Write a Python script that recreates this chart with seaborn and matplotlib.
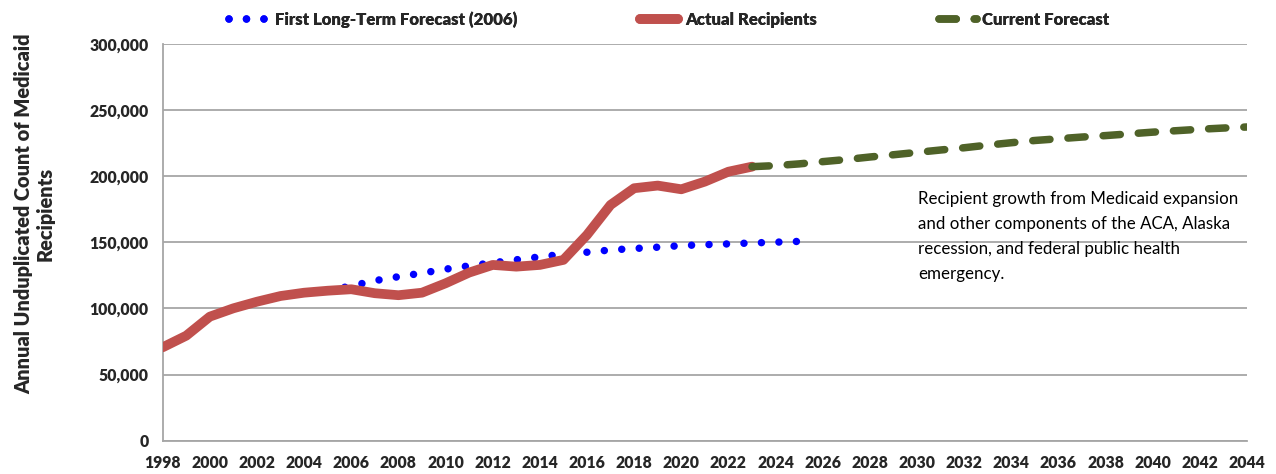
import matplotlib
matplotlib.use('Agg')
import matplotlib.pyplot as plt
import matplotlib.ticker as mticker
from matplotlib.lines import Line2D
import pandas as pd
import seaborn as sns

# values (recipients)
actual_years = list(range(1998, 2024))
actual_vals = [70600, 79400, 93800, 100100, 105100, 109400, 111900, 113400, 114500,
               111500, 110000, 111900, 119000, 127100, 132900, 131600, 132900, 136700,
               155600, 178300, 190900, 192900, 190100, 195900, 203400, 207200]

first_years = list(range(2005, 2026))
first_vals = [113400, 117000, 121000, 124000, 126700, 129700, 132200, 134500, 136800,
              139000, 141000, 142500, 144200, 145300, 146300, 147500, 148200, 148800,
              149500, 150100, 150700]

current_years = list(range(2023, 2045))
current_vals = [207200, 208000, 209300, 211000, 212600, 214500, 216200, 218000, 219800,
                221500, 223500, 225300, 227000, 228300, 229600, 230700, 232000, 233300,
                234400, 235500, 236400, 237200]

BLUE = '#0000FF'
RED = '#C0504D'
GREEN = '#4F6228'
GRID = '#A6A6A6'
W = 'heavy'

sns.set_style('white')
plt.rcParams['font.family'] = ['Lato', 'DejaVu Sans']

fig = plt.figure(figsize=(12.76, 4.74), dpi=100)
ax = fig.add_axes([0.1275, 0.0703, 0.8498, 0.837])

first_df = pd.DataFrame({'year': first_years, 'n': first_vals})
actual_df = pd.DataFrame({'year': actual_years, 'n': actual_vals})
current_df = pd.DataFrame({'year': current_years, 'n': current_vals})

dot_style = dict(color=BLUE, lw=5.4, linestyle=(0, (0.001, 2.33)), dash_capstyle='round')
red_style = dict(color=RED, lw=7, solid_capstyle='round', solid_joinstyle='round')
green_style = dict(color=GREEN, lw=5.4, linestyle=(0, (2.3, 2.4)), dash_capstyle='round')

sns.lineplot(data=first_df, x='year', y='n', ax=ax, zorder=3, **dot_style)
sns.lineplot(data=actual_df, x='year', y='n', ax=ax, zorder=4, **red_style)
sns.lineplot(data=current_df, x='year', y='n', ax=ax, zorder=5, **green_style)

ax.set_xlim(1998, 2044)
ax.set_ylim(0, 300000)
ax.set_xticks(range(1998, 2045, 2))
ax.set_yticks(range(0, 300001, 50000))
ax.yaxis.set_major_formatter(mticker.FuncFormatter(lambda v, p: f'{v:,.0f}'))
ax.grid(axis='y', color=GRID, lw=1.3)
ax.set_axisbelow(True)
for s in ['top', 'right']:
    ax.spines[s].set_visible(False)
for s in ['left', 'bottom']:
    ax.spines[s].set_color(GRID)
    ax.spines[s].set_linewidth(1.3)
ax.tick_params(axis='both', which='major', length=5, width=1.2, color=GRID,
               labelsize=11.3, pad=5)
for lbl in ax.get_xticklabels() + ax.get_yticklabels():
    lbl.set_fontweight(W)

ax.set_xlabel('')
ax.set_ylabel('Annual Unduplicated Count of Medicaid\nRecipients',
              fontsize=14.4, fontweight=W, linespacing=1.2)
ax.yaxis.set_label_coords(-0.0993, 0.571)

ax.text(0.7195, 1 - 191 / 474, 'Recipient growth from Medicaid expansion\n'
        'and other components of the ACA, Alaska\n'
        'recession, and federal public health\n'
        'emergency.', transform=fig.transFigure, fontsize=12.2,
        va='top', ha='left', linespacing=1.7, color='black')

# legend: three separate entries placed like the original
entries = [
    (Line2D([], [], **dot_style), 'First Long-Term Forecast (2006)', 229, 0.5),
    (Line2D([], [], **red_style), 'Actual Recipients', 640, 0.45),
    (Line2D([], [], **green_style), 'Current Forecast', 939, 0.33),
]
for handle, text, px, pad in entries:
    leg = fig.legend([handle], [text], loc='center left',
                     bbox_to_anchor=(px / 1276, 1 - 20 / 474), frameon=False,
                     handlelength=2.25, handletextpad=pad, borderpad=0,
                     borderaxespad=0, prop={'weight': W, 'size': 12.1})
    fig.add_artist(leg)

fig.savefig('out.png', dpi=100)
